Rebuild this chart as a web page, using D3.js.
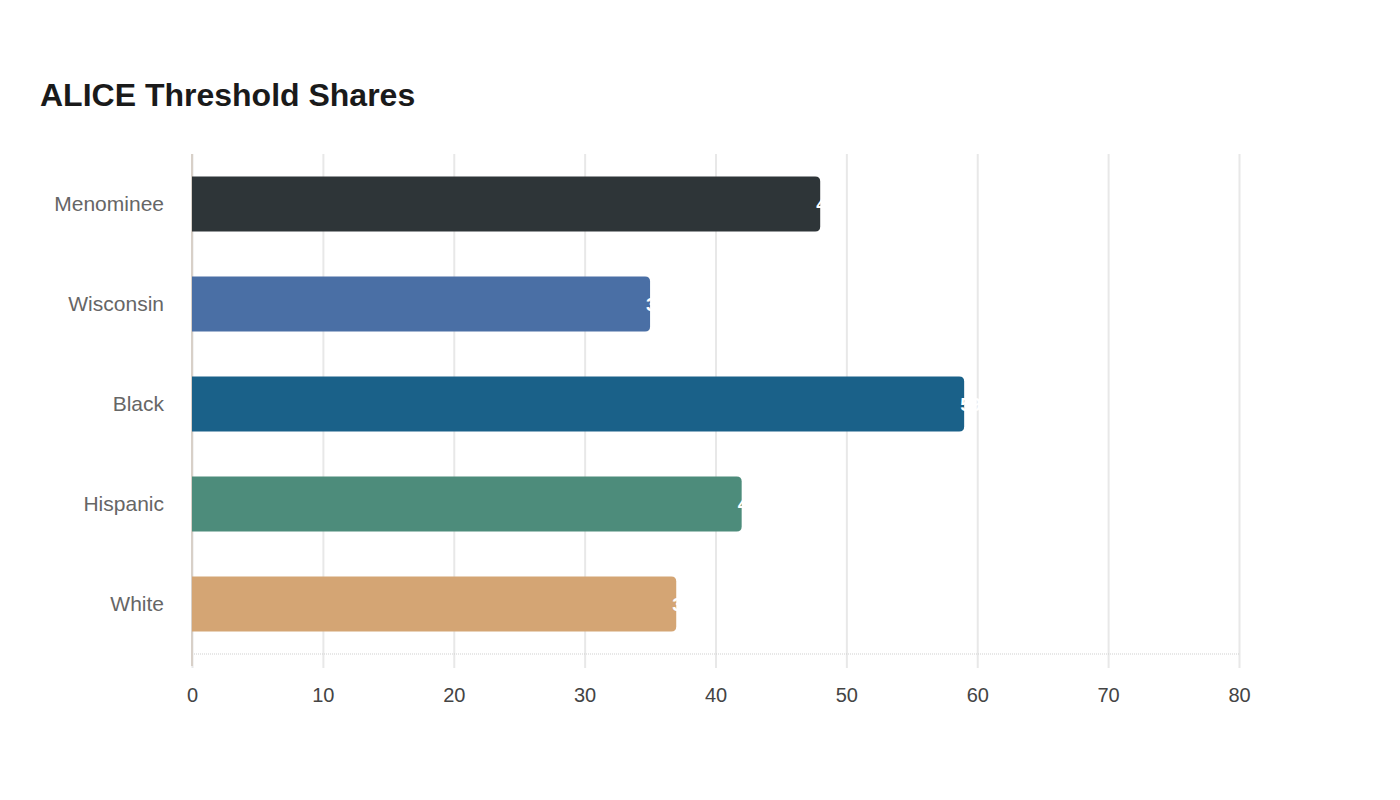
<!DOCTYPE html>
<html>
<head>
<meta charset="utf-8">
<script src="https://cdn.jsdelivr.net/npm/d3@7"></script>
<style>
  body { margin: 0; background: #fff; font-family: "Liberation Sans", Arial, sans-serif; }
</style>
</head>
<body>
<svg id="chart" width="1400" height="800"></svg>
<script>
// chart data
const categories = ["Menominee", "Wisconsin", "Black", "Hispanic", "White"];
const shares = [48, 35, 59, 42, 37];
const barColors = ["#2e3538", "#4a6fa5", "#1a6189", "#4d8c7b", "#d4a574"];
const xTicks = [0, 10, 20, 30, 40, 50, 60, 70, 80];

let dims = { top: 154, bottom: 146, left: 192, right: 161 };
let width = 1400 - dims.left - dims.right;
let height = 800 - dims.top - dims.bottom;

let svg = d3.select("#chart");

svg.append("text")
  .text("ALICE Threshold Shares")
  .attr("x", 40).attr("y", 106)
  .attr("font-size", 32).attr("font-weight", "bold")
  .attr("fill", "#1a1a1a");

let g = svg.append("g").attr("transform", "translate(" + dims.left + "," + dims.top + ")");

let xScale = d3.scaleLinear().domain([0, 80]).range([0, width]);
let yScale = d3.scaleBand().domain(categories).range([0, height]).paddingInner(0.45).paddingOuter(0.225);

// gridlines + ticks
let xAxis = d3.axisBottom(xScale).tickValues(xTicks).tickSize(-height).tickPadding(0);
let gx = g.append("g").attr("transform", "translate(0," + height + ")").call(xAxis);
gx.select(".domain").remove();
gx.selectAll(".tick line").attr("stroke", "#e8e8e8").attr("stroke-width", 2).attr("y2", -height).attr("y1", 14);
gx.selectAll(".tick text").attr("y", 34).attr("font-size", 20).attr("fill", "#444")
  .attr("font-family", "Liberation Sans, Arial, sans-serif");

// bottom baseline (dotted)
g.append("line")
  .attr("x1", 0).attr("x2", width).attr("y1", height).attr("y2", height)
  .attr("stroke", "#cfcfcf").attr("stroke-dasharray", "1,1");

// left axis line
g.append("line")
  .attr("x1", 0).attr("x2", 0).attr("y1", 0).attr("y2", height + 12)
  .attr("stroke", "#d8d0c8").attr("stroke-width", 2);

// category labels
let yAxis = d3.axisLeft(yScale).tickSize(0).tickPadding(28);
let gy = g.append("g").call(yAxis);
gy.select(".domain").remove();
gy.selectAll(".tick text").attr("font-size", 21).attr("fill", "#666")
  .attr("font-family", "Liberation Sans, Arial, sans-serif");

// bars with rounded right end
const r = 5;
g.selectAll("path.bar")
  .data(categories)
  .enter()
  .append("path")
  .attr("class", "bar")
  .attr("fill", (d, i) => barColors[i])
  .attr("d", (d, i) => {
    let x1 = xScale(0), x2 = xScale(shares[i]);
    let y0 = yScale(d), h = yScale.bandwidth();
    return "M" + x1 + "," + y0 + "H" + (x2 - r) + "Q" + x2 + "," + y0 + " " + x2 + "," + (y0 + r) +
      "V" + (y0 + h - r) + "Q" + x2 + "," + (y0 + h) + " " + (x2 - r) + "," + (y0 + h) + "H" + x1 + "Z";
  });

// value labels (white, sitting on bar end)
g.selectAll("text.val")
  .data(categories)
  .enter()
  .append("text")
  .attr("class", "val")
  .attr("x", (d, i) => xScale(shares[i]) - 4)
  .attr("y", d => yScale(d) + yScale.bandwidth() / 2)
  .attr("dy", "0.35em")
  .attr("font-size", 19).attr("font-weight", "bold")
  .attr("fill", "#fff")
  .text((d, i) => shares[i]);
</script>
</body>
</html>
